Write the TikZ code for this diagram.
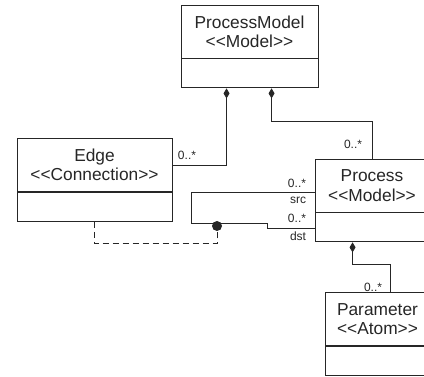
\documentclass[tikz,border=0pt]{standalone}
\usepackage{fontspec}
\setmainfont[Ligatures=TeXOff]{Liberation Sans}
\usepackage{tikz}
\usetikzlibrary{arrows.meta,calc}

\begin{document}
\begin{tikzpicture}[x=0.75pt, y=-0.75pt, line width=0.7pt, color=black!85,
		classname/.style={draw, align=center, minimum height=39.75pt, inner sep=0pt,
			font=\fontsize{13}{14.5}\selectfont},
		compartment/.style={draw, anchor=north, minimum height=21.75pt, inner sep=0pt},
		mult/.style={font=\fontsize{9}{10}\selectfont, inner sep=0pt},
		comp/.style={-{Diamond[length=7.5pt, width=4.5pt]}},
		assocdot/.style={circle, fill, inner sep=0pt, minimum size=7.5pt}]
		\useasboundingbox (0,0) rectangle (424,377);
		\clip (0,0) rectangle (424,377);
		% ---------------- classes ----------------
		\node[classname, minimum width=102.75pt] (pmt) at (249.5,31.5) {ProcessModel\\<<Model>>};
		\node[compartment, minimum width=102.75pt] (pmc) at (pmt.south) {};
		\node[classname, minimum width=116.25pt] (et) at (94.5,165) {Edge\\<<Connection>>};
		\node[compartment, minimum width=116.25pt] (ec) at (et.south) {};
		\node[classname, minimum width=85.5pt] (pt) at (372,185.5) {Process\\<<Model>>};
		\node[compartment, minimum width=85.5pt] (pcc) at (pt.south) {};
		\node[classname, minimum width=78.75pt] (prt) at (377.5,319) {Parameter\\<<Atom>>};
		\node[compartment, minimum width=78.75pt] (prc) at (prt.south) {};
		% ---------------- compositions ----------------
		\draw[comp] (et.east) -| ($(pmc.south west)+(46,0)$);
		\node[mult] at (187,155) {0..*};
		\draw[comp] (pt.north) -- ++(0,-37) -| ($(pmc.south west)+(91,0)$);
		\node[mult] at (353,144) {0..*};
		\draw[comp] ($(prt.north west)+(66,0)$) -- ++(0,-28) -| ($(pcc.south west)+(38,0)$);
		\node[mult] at (373,287) {0..*};
		% ---------------- src / dst association ----------------
		\draw ($(pt.north west)+(0,34)$) -| ++(-123,31) -- ++(76,0) |- ($(pcc.north west)+(0,16)$);
		\node[mult] at (297,183) {0..*};
		\node[mult] at (298,200) {src};
		\node[mult] at (297,218) {0..*};
		\node[mult] at (298,236) {dst};
		% association class link
		\node[assocdot] (ad) at (217,226) {};
		\draw[dashed, dash pattern=on 4.5pt off 3pt] (ec.south) -- ++(0,22) -| (ad);
	\end{tikzpicture}
\end{document}
